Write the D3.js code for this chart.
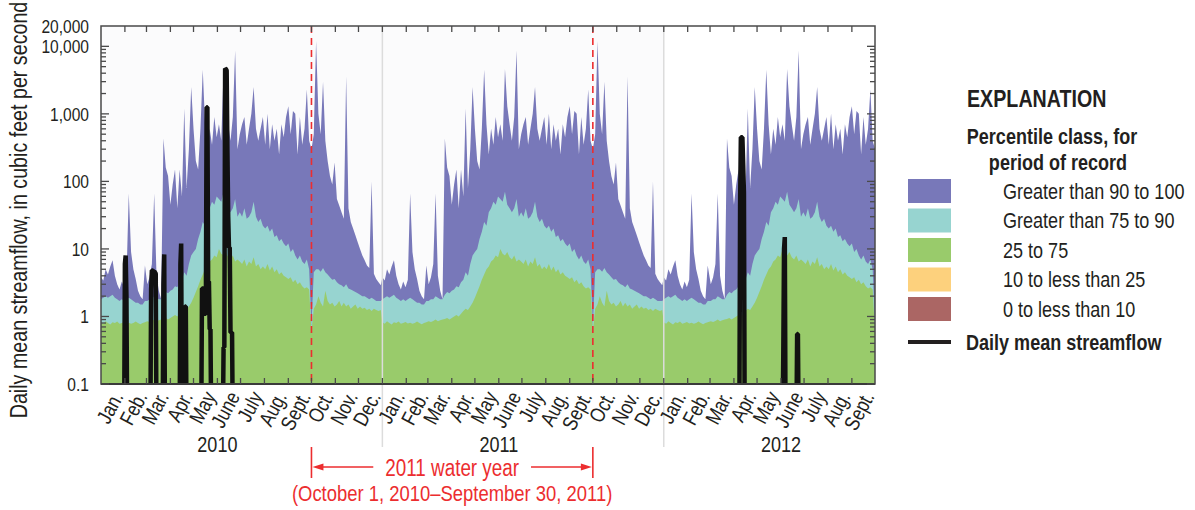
<!DOCTYPE html>
<html>
<head>
<meta charset="utf-8">
<script src="https://cdn.jsdelivr.net/npm/d3@7"></script>
<style>
  body { margin: 0; background: #fff; }
  svg text { font-family: "Liberation Sans", Arial, sans-serif; fill: #231f20; }
</style>
</head>
<body>
<svg id="chart" width="1195" height="510"></svg>
<script>
// Period-of-record percentile statistics by day of year, sampled every 3rd day
// starting January 1 (cubic feet per second).
const stepDays = 3;
const maxFlow = [
  3.8, 3.4, 5.0, 4.2, 5.5, 6.8, 4.0, 3.0, 2.5, 3.3,
  2.7, 3.5, 66, 9, 5, 3.6, 2.4, 2.0, 1.8, 5.7,
  3.0, 3.8, 6, 66, 4, 2.4, 1.8, 430, 160, 120,
  45, 90, 150, 40, 150, 60, 1200, 80, 300, 2500,
  600, 200, 150, 600, 4500, 700, 250, 600, 350, 900,
  450, 700, 400, 4600, 1300, 700, 400, 900, 8700, 300,
  500, 700, 900, 350, 600, 1000, 2500, 600, 400, 600,
  900, 350, 1000, 300, 700, 400, 600, 250, 700, 450,
  900, 1300, 500, 1100, 1000, 250, 900, 350, 600, 2300,
  400, 300, 500, 12000, 1000, 500, 3000, 400, 200, 120,
  90, 190, 55, 44, 35, 28, 3600, 40, 25, 20,
  16, 12.6, 10, 8, 6.8, 5.7, 5.2, 100, 4.3, 3.6,
  3.2, 2.9
];
const p90 = [
  1.8, 1.9, 2.0, 1.9, 2.0, 2.1, 1.9, 1.8, 1.7, 1.8,
  1.7, 1.8, 1.9, 1.8, 1.7, 1.6, 1.6, 1.5, 1.5, 1.7,
  1.7, 1.8, 1.8, 2.0, 1.9, 1.8, 1.8, 2.1, 2.3, 2.2,
  2.4, 2.5, 2.8, 2.7, 3.2, 3.5, 4.5, 4.0, 6, 8,
  9, 10, 14, 18, 25, 22, 35, 40, 50, 45,
  60, 55, 50, 70, 45, 40, 35, 40, 55, 30,
  35, 30, 40, 28, 30, 35, 50, 30, 25, 28,
  22, 20, 22, 18, 20, 15, 16, 13, 14, 12,
  11, 12, 9, 10, 8, 7, 8, 6.5, 6, 7,
  5, 0.75, 4.5, 5, 5.0, 4.6, 5.2, 4.5, 4.2, 3.8,
  3.5, 3.6, 3.2, 3.0, 2.9, 2.7, 3.0, 2.6, 2.5, 2.4,
  2.3, 2.2, 2.1, 2.0, 2.0, 1.9, 1.8, 1.9, 1.8, 1.7,
  1.7, 1.7
];
const p75 = [
  0.82, 0.78, 0.85, 0.8, 0.76, 0.82, 0.8, 0.84, 0.78, 0.8,
  0.83, 0.79, 0.81, 0.78, 0.8, 0.84, 0.8, 0.77, 0.8, 0.82,
  0.85, 0.83, 0.86, 0.9, 0.85, 0.88, 0.9, 0.92, 0.95, 0.9,
  0.95, 1.0, 1.05, 1.0, 1.1, 1.2, 1.3, 1.25, 1.4, 1.6,
  1.9, 2.3, 2.8, 3.5, 4.2, 5.0, 5.5, 6.5, 7.0, 8.0,
  7.5, 10, 8.5, 8.0, 9.0, 7.5, 7.0, 8.0, 6.5, 7.0,
  6.5, 6.0, 7.0, 5.5, 6.5, 6.0, 7.5, 5.5, 6.0, 5.0,
  5.5, 5.0, 6.0, 4.8, 5.5, 4.5, 5.0, 4.2, 4.5, 4.0,
  3.8, 3.6, 3.8, 3.2, 3.5, 3.0, 3.2, 2.8, 2.6, 2.7,
  2.5, 0.6, 1.3, 1.5, 2.0, 1.6, 1.4, 2.4, 1.7, 1.5,
  1.6, 1.4, 1.5, 1.7, 1.4, 1.6, 1.4, 1.5, 1.3, 1.4,
  1.5, 1.3, 1.4, 1.3, 1.35, 1.25, 1.3, 1.2, 1.3, 1.25,
  1.2, 1.25
];
const yearsShown = [2010, 2011, 2012];

// Daily mean streamflow; days not listed had no flow.
const flowDates = [
  "2010-01-01",
  "2010-01-31", "2010-02-01", "2010-02-02", "2010-02-03", "2010-02-04",
  "2010-03-06", "2010-03-07", "2010-03-08", "2010-03-09", "2010-03-10", "2010-03-11", "2010-03-12", "2010-03-13", "2010-03-14",
  "2010-03-22", "2010-03-23", "2010-03-24", "2010-03-25",
  "2010-04-13", "2010-04-14", "2010-04-15", "2010-04-16",
  "2010-04-19", "2010-04-20", "2010-04-21", "2010-04-22",
  "2010-05-11", "2010-05-12", "2010-05-13", "2010-05-14", "2010-05-15", "2010-05-16", "2010-05-17",
  "2010-05-18", "2010-05-19", "2010-05-20", "2010-05-21", "2010-05-22", "2010-05-23", "2010-05-24",
  "2010-06-08", "2010-06-09", "2010-06-10", "2010-06-11", "2010-06-12", "2010-06-13", "2010-06-14",
  "2010-06-15", "2010-06-16", "2010-06-17", "2010-06-18", "2010-06-19", "2010-06-20", "2010-06-21",
  "2012-04-08", "2012-04-09", "2012-04-10", "2012-04-11", "2012-04-12", "2012-04-13", "2012-04-14", "2012-04-15",
  "2012-06-03", "2012-06-04", "2012-06-05", "2012-06-06", "2012-06-07",
  "2012-06-21", "2012-06-22", "2012-06-23", "2012-06-24",
  "2012-09-30"
];
const flowValues = [
  0,
  0, 6, 8, 2, 0,
  0, 2.5, 4.8, 4.8, 4.6, 4.7, 4.5, 4.3, 0,
  0, 3, 8.3, 0,
  0, 6, 12, 0,
  0, 1.4, 1.4, 0,
  0, 2.6, 2.6, 2.6, 1.1, 1.1, 1.1,
  1250, 1250, 3.3, 3.3, 0.65, 0.65, 0,
  0, 0.35, 0.35, 4700, 4600, 4400, 270,
  30, 10.5, 10.5, 0.58, 0.58, 0.58, 0,
  0, 43, 450, 450, 450, 180, 68, 0,
  0, 0.25, 10, 15, 0,
  0, 0.55, 0.55, 0,
  0
];

// Axis text
const yTickValues = [0.1, 1, 10, 100, 1000, 10000, 20000];
const yTickLabels = ["0.1", "1", "10", "100", "1,000", "10,000", "20,000"];
const monthLabels = ["Jan.", "Feb.", "Mar.", "Apr.", "May", "June", "July", "Aug.", "Sept.", "Oct.", "Nov.", "Dec."];
const waterYearStart = "2010-10-01";
const waterYearEnd = "2011-10-01";

// Legend
const classLabels = ["Greater than 90 to 100", "Greater than 75 to 90", "25 to 75", "10 to less than 25", "0 to less than 10"];
const classColors = ["#7878b9", "#97d4d0", "#99cb6b", "#fdd17d", "#ab6664"];

const parse = d3.timeParse("%Y-%m-%d");
const svg = d3.select("#chart");
const plot = { left: 101, right: 875, top: 26, bottom: 384 };
const narrow = 0.82;   // horizontal squeeze giving a condensed face

// Text drawn in a condensed style around its anchor point
function label(parent, px, py, str, o = {}) {
  const t = parent.append("text")
    .attr("transform", `translate(${px},${py})` + (o.rotate ? ` rotate(${o.rotate})` : "") + ` scale(${narrow},1)`)
    .attr("text-anchor", o.anchor || "start")
    .attr("font-size", o.size || 20)
    .text(str);
  if (o.weight) t.attr("font-weight", o.weight);
  if (o.dy) t.attr("dy", o.dy);
  if (o.fill) t.style("fill", o.fill);
  return t;
}

const x = d3.scaleTime()
  .domain([new Date(2010, 0, 1), new Date(2012, 9, 1)])
  .range([plot.left, plot.right]);
const y = d3.scaleLog()
  .domain([0.1, 20000])
  .range([plot.bottom, plot.top]);

// Day-of-year statistics repeated for each calendar year shown
const refYear = new Date(2011, 0, 1);
const stats = [];
yearsShown.forEach(Y => {
  maxFlow.forEach((v, i) => {
    const dd = d3.timeDay.offset(refYear, i * stepDays);
    const date = new Date(Y, dd.getMonth(), dd.getDate());
    if (date <= x.domain()[1]) stats.push({ date, max: v, p90: p90[i], p75: p75[i] });
  });
});
const flow = flowDates.map((d, i) => ({ date: parse(d), v: flowValues[i] }));

svg.append("defs").append("clipPath").attr("id", "plotClip")
  .append("rect")
  .attr("x", plot.left).attr("y", plot.top)
  .attr("width", plot.right - plot.left).attr("height", plot.bottom - plot.top);

// faint background behind the 2010-2011 panel
svg.append("rect")
  .attr("x", x(new Date(2010, 0, 1))).attr("y", plot.top)
  .attr("width", x(new Date(2012, 0, 1)) - x(new Date(2010, 0, 1)))
  .attr("height", plot.bottom - plot.top)
  .attr("fill", "#fbfbfc");

const g = svg.append("g").attr("clip-path", "url(#plotClip)");

const band = key => d3.area()
  .x(d => x(d.date))
  .y0(plot.bottom)
  .y1(d => y(d[key]));

g.append("path").datum(stats).attr("d", band("max")).attr("fill", classColors[0]);
g.append("path").datum(stats).attr("d", band("p90")).attr("fill", classColors[1]);
g.append("path").datum(stats).attr("d", band("p75")).attr("fill", classColors[2]);

// calendar-year dividers
[new Date(2011, 0, 1), new Date(2012, 0, 1)].forEach(d => {
  svg.append("line")
    .attr("x1", x(d)).attr("x2", x(d))
    .attr("y1", plot.top).attr("y2", 447)
    .attr("stroke", "#dcdcdc").attr("stroke-width", 1.5);
});

// water-year boundaries
[waterYearStart, waterYearEnd].forEach(s => {
  const xx = x(parse(s));
  svg.append("line")
    .attr("x1", xx).attr("x2", xx)
    .attr("y1", plot.top).attr("y2", plot.bottom)
    .attr("stroke", "#ec2d2f").attr("stroke-width", 1.6)
    .attr("stroke-dasharray", "7,5");
  svg.append("line")
    .attr("x1", xx).attr("x2", xx)
    .attr("y1", 447).attr("y2", 478)
    .attr("stroke", "#ec2d2f").attr("stroke-width", 1.6);
});

// daily mean streamflow
g.append("path").datum(flow)
  .attr("d", d3.line().x(d => x(d.date)).y(d => y(Math.max(d.v, 0.02))))
  .attr("fill", "none")
  .attr("stroke", "#111")
  .attr("stroke-width", 4.5)
  .attr("stroke-linejoin", "bevel");

// frame
svg.append("rect")
  .attr("x", plot.left).attr("y", plot.top)
  .attr("width", plot.right - plot.left).attr("height", plot.bottom - plot.top)
  .attr("fill", "none").attr("stroke", "#4a4a4a").attr("stroke-width", 1.5);
svg.append("line")
  .attr("x1", plot.left).attr("x2", plot.right)
  .attr("y1", plot.bottom).attr("y2", plot.bottom)
  .attr("stroke", "#3a3a3a").attr("stroke-width", 2.2);

// log ticks on left and right, pointing inward
const ticks = [];
for (let e = -1; e <= 4; e++) {
  ticks.push({ v: Math.pow(10, e), major: true });
  if (e < 4) for (let m = 2; m <= 9; m++) ticks.push({ v: m * Math.pow(10, e), major: false });
}
ticks.forEach(t => {
  const len = t.major ? 8 : 5;
  const yy = y(t.v);
  svg.append("line").attr("x1", plot.left).attr("x2", plot.left + len)
    .attr("y1", yy).attr("y2", yy).attr("stroke", "#4a4a4a").attr("stroke-width", 1.3);
  svg.append("line").attr("x1", plot.right).attr("x2", plot.right - len)
    .attr("y1", yy).attr("y2", yy).attr("stroke", "#4a4a4a").attr("stroke-width", 1.3);
});

yTickValues.forEach((v, i) => {
  label(svg, 89, y(v), yTickLabels[i], { anchor: "end", size: 19, dy: "0.36em" });
});

label(svg, 27, 210, "Daily mean streamflow, in cubic feet per second",
  { anchor: "middle", size: 24, rotate: -90 });

// month ticks on top and bottom
const monthStarts = d3.timeMonth.range(new Date(2010, 1, 1), new Date(2012, 9, 1));
monthStarts.forEach(d => {
  const xx = x(d);
  svg.append("line").attr("x1", xx).attr("x2", xx).attr("y1", plot.top).attr("y2", plot.top + 6)
    .attr("stroke", "#4a4a4a").attr("stroke-width", 1.3);
  svg.append("line").attr("x1", xx).attr("x2", xx).attr("y1", plot.bottom).attr("y2", plot.bottom - 6)
    .attr("stroke", "#4a4a4a").attr("stroke-width", 1.3);
});

// month labels
d3.timeMonth.range(new Date(2010, 0, 1), new Date(2012, 9, 1)).forEach(d => {
  const mid = x(new Date(d.getFullYear(), d.getMonth(), 16));
  label(svg, mid + 5, plot.bottom + 9, monthLabels[d.getMonth()],
    { anchor: "end", size: 21, rotate: -62, dy: "0.35em" });
});

// year labels
yearsShown.forEach(Y => {
  label(svg, x(new Date(Y, 5, 1)), 452, String(Y), { anchor: "middle", size: 22 });
});

// water-year annotation
const xa = x(parse(waterYearStart)), xb = x(parse(waterYearEnd));
const xc = (xa + xb) / 2;
const wyText = label(svg, xc, 476, "2011 water year", { anchor: "middle", size: 23, fill: "#ec2d2f" });
label(svg, xc, 501, "(October 1, 2010\u2013September 30, 2011)", { anchor: "middle", size: 22.5, fill: "#ec2d2f" });
const half = wyText.node().getComputedTextLength() * narrow / 2;
const arrowY = 467;
[[xc - half - 12, xa + 1], [xc + half + 12, xb - 1]].forEach(([from, to]) => {
  const dir = Math.sign(to - from);
  svg.append("line")
    .attr("x1", from).attr("x2", to - dir * 9)
    .attr("y1", arrowY).attr("y2", arrowY)
    .attr("stroke", "#ec2d2f").attr("stroke-width", 1.5);
  svg.append("path")
    .attr("d", `M${to},${arrowY} L${to - dir * 11},${arrowY - 3.5} L${to - dir * 11},${arrowY + 3.5} Z`)
    .attr("fill", "#ec2d2f");
});

// explanation
const lg = svg.append("g");
label(lg, 967, 107, "EXPLANATION", { size: 24, weight: "bold" });
label(lg, 1052, 144, "Percentile class, for", { anchor: "middle", size: 22, weight: "bold" });
label(lg, 1058, 170, "period of record", { anchor: "middle", size: 22, weight: "bold" });

classLabels.forEach((lab, i) => {
  const top = 179 + i * 29.5;
  lg.append("rect").attr("x", 908).attr("y", top).attr("width", 43).attr("height", 24)
    .attr("fill", classColors[i]);
  label(lg, 1003, top + 12, lab, { size: 22, dy: "0.36em" });
});
lg.append("line").attr("x1", 908).attr("x2", 951).attr("y1", 342).attr("y2", 342)
  .attr("stroke", "#231f20").attr("stroke-width", 4);
label(lg, 966, 342, "Daily mean streamflow", { size: 22, weight: "bold", dy: "0.36em" });
</script>
</body>
</html>
